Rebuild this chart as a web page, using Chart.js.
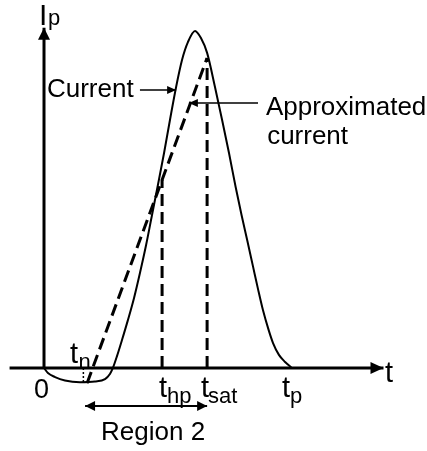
<!DOCTYPE html>
<html>
<head>
<meta charset="utf-8">
<script src="https://cdn.jsdelivr.net/npm/chart.js@4.4.1/dist/chart.umd.min.js"></script>
<style>
  html, body { margin: 0; padding: 0; background: #fff; }
  canvas { display: block; }
</style>
</head>
<body>
<canvas id="chart" width="427" height="451"></canvas>
<script>
// time in % of t_p, current in % of the peak
const currentT = [0, 1.6, 4.5, 8.5, 14.6, 20.7, 24.8, 26.8, 28.0, 29.7, 31.7, 34.1, 36.6, 39.0, 41.5, 43.9, 46.3, 48.8, 51.2, 53.7, 56.1, 58.5, 61.4, 63.8, 66.3, 69.5, 72.4, 75.2, 77.9, 80.3, 82.7, 85.0, 87.0, 89.0, 91.3, 93.1, 95.5, 98.0, 100.8];
const currentI = [0, -1.5, -2.7, -3.7, -4.2, -4.0, -3.3, -1.8, 0, 3.6, 8.3, 14.2, 20.8, 28.2, 36.5, 45.4, 54.3, 63.8, 73.6, 83.4, 91.4, 96.7, 100, 97.9, 93.5, 83.4, 73.6, 63.8, 53.7, 45.4, 37.6, 30.0, 23.4, 17.2, 11.3, 7.4, 3.9, 1.8, 0];

const approxT = [17.5, 66.3];
const approxI = [-4.5, 92.0];

// t_hp and t_sat guide lines
const markerT = [48.0, 66.3];
const markerTop = [55.8, 92.0];

const tnT = 16;
const tnBottom = -4.2;

const xAxisT = [-14, 138];
const yAxisI = [0, 101];

const toPoints = (xs, ys) => xs.map((x, k) => ({ x: x, y: ys[k] }));

const datasets = [
  { data: toPoints(xAxisT, [0, 0]), borderColor: '#000', borderWidth: 3 },
  { data: toPoints([0, 0], yAxisI), borderColor: '#000', borderWidth: 3 },
  {
    data: toPoints(currentT, currentI),
    borderColor: '#000',
    borderWidth: 2,
    cubicInterpolationMode: 'monotone',
  },
  {
    data: toPoints(approxT, approxI),
    borderColor: '#000',
    borderWidth: 3,
    borderDash: [12, 6],
  },
  {
    data: toPoints([tnT, tnT], [0, tnBottom]),
    borderColor: '#000',
    borderWidth: 1.5,
    borderDash: [2, 2],
  },
];
markerT.forEach((t, k) => {
  datasets.push({
    data: toPoints([t, t], [0, markerTop[k]]),
    borderColor: '#000',
    borderWidth: 3,
    borderDash: [12, 6],
  });
});

function arrowHead(ctx, x1, y1, x2, y2, len, half) {
  const a = Math.atan2(y2 - y1, x2 - x1);
  const c = Math.cos(a), s = Math.sin(a);
  ctx.beginPath();
  ctx.moveTo(x2, y2);
  ctx.lineTo(x2 - len * c + half * s, y2 - len * s - half * c);
  ctx.lineTo(x2 - len * c - half * s, y2 - len * s + half * c);
  ctx.closePath();
  ctx.fill();
}

// labels, anchored in data units (left edge, baseline)
const notes = [
  { text: 'I', t: -2.0, i: 101.8, size: 30 },
  { text: 'p', t: 1.6, i: 101.8, size: 22 },
  { text: 'Current', t: 1.2, i: 80.4, size: 26 },
  { text: 'Approximated', t: 90.2, i: 75.1, size: 26 },
  { text: 'current', t: 90.7, i: 66.5, size: 26 },
  { text: '0', t: -4.1, i: -8.9, size: 27 },
  { text: 't', t: 10.6, i: 1.5, size: 29 },
  { text: 'n', t: 14.0, i: -0.3, size: 22 },
  { text: 't', t: 46.7, i: -8.6, size: 29 },
  { text: 'hp', t: 50.0, i: -10.4, size: 22 },
  { text: 't', t: 63.8, i: -8.6, size: 29 },
  { text: 'sat', t: 66.7, i: -10.4, size: 22 },
  { text: 't', t: 96.7, i: -8.6, size: 29 },
  { text: 'p', t: 100.0, i: -10.4, size: 22 },
  { text: 't', t: 138.6, i: -4.2, size: 29 },
  { text: 'Region 2', t: 23.2, i: -21.4, size: 26 },
];

const arrows = [
  { from: [39.0, 82.5], to: [53.7, 82.5], width: 1.5, len: 9, half: 4, both: false },
  { from: [87.0, 78.6], to: [58.9, 78.6], width: 1.5, len: 9, half: 4, both: false },
  { from: [16.7, -11.3], to: [66.3, -11.3], width: 2, len: 10, half: 5, both: true },
];

const annotate = {
  id: 'annotate',
  afterDatasetsDraw(chart) {
    const ctx = chart.ctx;
    const sx = chart.scales.x, sy = chart.scales.y;
    const P = (t, i) => [sx.getPixelForValue(t), sy.getPixelForValue(i)];
    ctx.save();
    ctx.fillStyle = '#000';
    ctx.strokeStyle = '#000';

    // axis heads
    let a = P(xAxisT[0], 0), b = P(xAxisT[1], 0);
    arrowHead(ctx, a[0], a[1], b[0], b[1], 13, 6);
    a = P(0, yAxisI[0]); b = P(0, yAxisI[1]);
    arrowHead(ctx, a[0], a[1], b[0], b[1], 12, 6);

    arrows.forEach((ar) => {
      const p1 = P(ar.from[0], ar.from[1]);
      const p2 = P(ar.to[0], ar.to[1]);
      ctx.lineWidth = ar.width;
      ctx.beginPath();
      ctx.moveTo(p1[0], p1[1]);
      ctx.lineTo(p2[0], p2[1]);
      ctx.stroke();
      arrowHead(ctx, p1[0], p1[1], p2[0], p2[1], ar.len, ar.half);
      if (ar.both) arrowHead(ctx, p2[0], p2[1], p1[0], p1[1], ar.len, ar.half);
    });

    ctx.textAlign = 'left';
    ctx.textBaseline = 'alphabetic';
    notes.forEach((n) => {
      const p = P(n.t, n.i);
      ctx.font = n.size + 'px "Liberation Sans", Arial, sans-serif';
      ctx.fillText(n.text, p[0], p[1]);
    });
    ctx.restore();
  },
};

new Chart(document.getElementById('chart'), {
  type: 'line',
  data: { datasets: datasets },
  options: {
    responsive: false,
    animation: false,
    devicePixelRatio: 1,
    layout: { padding: 0 },
    elements: { point: { radius: 0 }, line: { borderCapStyle: 'butt' } },
    scales: {
      x: { type: 'linear', display: false, min: -17.89, max: 155.69 },
      y: { type: 'linear', display: false, min: -24.63, max: 109.2 },
    },
    plugins: { legend: { display: false }, tooltip: { enabled: false } },
  },
  plugins: [annotate],
});
</script>
</body>
</html>
